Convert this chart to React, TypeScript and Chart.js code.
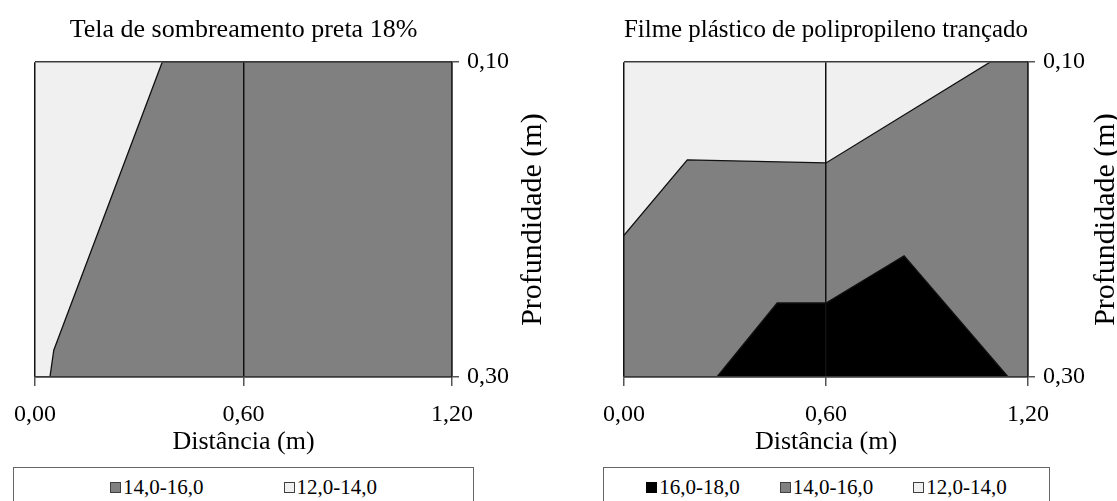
import React, { useEffect, useRef } from 'react';
import { Chart, registerables } from 'chart.js';

Chart.register(...registerables);

const FONT = "'Liberation Serif', 'Times New Roman', Times, serif";

// Axis ticks / titles
const xTickValues = [0, 0.6, 1.2];
const yTickValues = [0.1, 0.3];
const xAxisTitle = 'Distância (m)';
const yAxisTitle = 'Profundidade (m)';

// Panel 1: Tela de sombreamento preta 18%
const telaTitle = 'Tela de sombreamento preta 18%';
const telaClasses = ['14,0-16,0', '12,0-14,0'];
const telaColors = ['#808080', '#f0f0f0'];
// upper boundary (depth, m) of each class region, as a function of distance (m)
const tela14a16 = [
  { x: 0.043, y: 0.3 },
  { x: 0.054, y: 0.283 },
  { x: 0.366, y: 0.1 },
  { x: 1.2, y: 0.1 },
];
const tela12a14 = [
  { x: 0, y: 0.1 },
  { x: 1.2, y: 0.1 },
];

// Panel 2: Filme plástico de polipropileno trançado
const filmeTitle = 'Filme plástico de polipropileno trançado';
const filmeClasses = ['16,0-18,0', '14,0-16,0', '12,0-14,0'];
const filmeColors = ['#000000', '#808080', '#f0f0f0'];
const filme16a18 = [
  { x: 0.276, y: 0.3 },
  { x: 0.455, y: 0.253 },
  { x: 0.6, y: 0.253 },
  { x: 0.832, y: 0.223 },
  { x: 1.141, y: 0.3 },
];
const filme14a16 = [
  { x: 0, y: 0.21 },
  { x: 0.188, y: 0.162 },
  { x: 0.6, y: 0.164 },
  { x: 1.087, y: 0.1 },
  { x: 1.2, y: 0.1 },
];
const filme12a14 = [
  { x: 0, y: 0.1 },
  { x: 1.2, y: 0.1 },
];

const fmt = (v: number) => v.toFixed(2).replace('.', ',');

const yTitlePlugin = {
  id: 'yTitleRight',
  afterDraw(chart: any, _args: any, opts: any) {
    const { ctx, chartArea } = chart;
    ctx.save();
    ctx.translate(chartArea.right + opts.offset, (chartArea.top + chartArea.bottom) / 2);
    ctx.rotate(-Math.PI / 2);
    ctx.font = `${opts.size}px ${FONT}`;
    ctx.fillStyle = '#000';
    ctx.textAlign = 'center';
    ctx.textBaseline = 'middle';
    ctx.fillText(opts.text, 0, 0);
    ctx.restore();
  },
};

type PanelProps = {
  left: number;
  width: number;
  title: string;
  classes: string[];
  colors: string[];
  series: { x: number; y: number }[][];
  padLeft: number;
  yAxisWidth: number;
  yTitleOffset: number;
  legendLeft: number;
  legendWidth: number;
  legendGap: number;
};

function Panel(p: PanelProps) {
  const ref = useRef<HTMLCanvasElement | null>(null);

  useEffect(() => {
    if (!ref.current) return;
    const yMin = Math.min(...yTickValues);
    const yMax = Math.max(...yTickValues);
    const datasets = p.series.map((pts, i) => ({
      label: p.classes[i],
      data: pts,
      backgroundColor: p.colors[i],
      borderColor: '#111',
      borderWidth: i === p.series.length - 1 ? 0 : 1.3,
      fill: { value: yMax },
      pointRadius: 0,
      pointHoverRadius: 0,
      tension: 0,
    }));

    const chart = new Chart(ref.current, {
      type: 'line',
      data: { datasets },
      plugins: [yTitlePlugin],
      options: {
        animation: false,
        responsive: false,
        events: [],
        layout: { padding: { left: p.padLeft, right: 0, top: 0, bottom: 43 } },
        scales: {
          x: {
            type: 'linear',
            min: xTickValues[0],
            max: xTickValues[xTickValues.length - 1],
            afterBuildTicks: (s: any) => {
              s.ticks = xTickValues.map((v) => ({ value: v }));
            },
            afterFit: (s: any) => {
              s.height = 81;
            },
            ticks: {
              callback: (v: any) => fmt(Number(v)),
              font: { family: FONT, size: 24 },
              color: '#000',
              padding: 14,
              maxRotation: 0,
              autoSkip: false,
            },
            grid: {
              z: 1,
              color: '#111',
              lineWidth: 1.5,
              tickLength: 9,
              tickColor: '#555',
            },
            border: { display: true, color: '#333', width: 1.5, z: 1 },
            title: {
              display: true,
              text: xAxisTitle,
              font: { family: FONT, size: 26 },
              color: '#000',
              padding: { top: 0, bottom: 0 },
            },
          },
          y: {
            type: 'linear',
            position: 'right',
            reverse: true,
            min: yMin,
            max: yMax,
            afterBuildTicks: (s: any) => {
              s.ticks = yTickValues.map((v) => ({ value: v }));
            },
            afterFit: (s: any) => {
              s.width = p.yAxisWidth;
            },
            ticks: {
              callback: (v: any) => fmt(Number(v)),
              font: { family: FONT, size: 24 },
              color: '#000',
              padding: 8,
              autoSkip: false,
            },
            grid: {
              z: 1,
              color: '#3a3a3a',
              lineWidth: 1.5,
              tickLength: 7,
              tickColor: '#555',
            },
            border: { display: true, color: '#222', width: 1.5, z: 1 },
          },
        },
        plugins: {
          legend: { display: false },
          tooltip: { enabled: false },
          title: {
            display: true,
            text: p.title,
            fullSize: false,
            font: { family: FONT, size: 26, weight: 'normal' },
            color: '#000',
            padding: { top: 15, bottom: 16 },
          },
          yTitleRight: { text: yAxisTitle, offset: p.yTitleOffset, size: 30 },
        } as any,
      },
    } as any);
    return () => chart.destroy();
  }, []);

  return (
    <>
      <canvas
        ref={ref}
        width={p.width}
        height={501}
        style={{ position: 'absolute', left: p.left, top: 0, width: p.width, height: 501 }}
      />
      <div
        style={{
          position: 'absolute',
          left: p.legendLeft,
          top: 467,
          width: p.legendWidth,
          height: 40,
          boxSizing: 'border-box',
          border: '1px solid #666',
          background: '#fff',
          display: 'flex',
          justifyContent: 'center',
          alignItems: 'center',
          gap: p.legendGap,
          fontFamily: FONT,
          fontSize: 21,
          color: '#000',
          whiteSpace: 'nowrap',
        }}
      >
        {p.classes.map((c, i) => (
          <span key={c} style={{ display: 'inline-flex', alignItems: 'center' }}>
            <span
              style={{
                display: 'inline-block',
                width: 11,
                height: 11,
                boxSizing: 'border-box',
                border: `1px solid ${p.colors[i] === '#000000' ? '#000' : '#404040'}`,
                background: p.colors[i],
                marginRight: 2,
              }}
            />
            {c}
          </span>
        ))}
      </div>
    </>
  );
}

export default function App() {
  return (
    <div
      style={{
        position: 'absolute',
        left: 0,
        top: 0,
        width: 1117,
        height: 501,
        overflow: 'hidden',
        background: '#fff',
      }}
    >
      <Panel
        left={0}
        width={558}
        title={telaTitle}
        classes={telaClasses}
        colors={telaColors}
        series={[tela14a16, tela12a14]}
        padLeft={34}
        yAxisWidth={106}
        yTitleOffset={81}
        legendLeft={13}
        legendWidth={461}
        legendGap={80}
      />
      <Panel
        left={558}
        width={559}
        title={filmeTitle}
        classes={filmeClasses}
        colors={filmeColors}
        series={[filme16a18, filme14a16, filme12a14]}
        padLeft={66}
        yAxisWidth={89}
        yTitleOffset={78}
        legendLeft={603}
        legendWidth={447}
        legendGap={40}
      />
    </div>
  );
}
